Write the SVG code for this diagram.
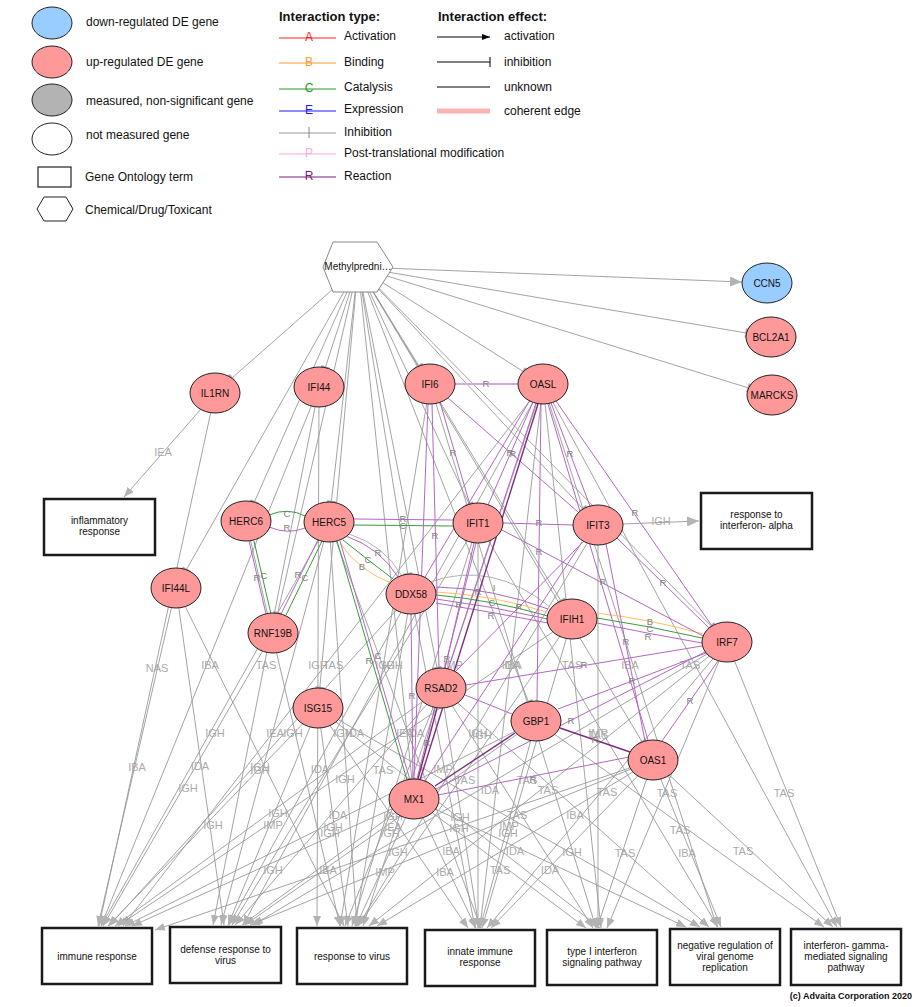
<svg xmlns="http://www.w3.org/2000/svg" width="922" height="1007" viewBox="0 0 922 1007">
<defs>
  <marker id="ga" viewBox="0 0 10 8" refX="10" refY="4" markerWidth="10" markerHeight="8" markerUnits="userSpaceOnUse" orient="auto">
    <path d="M0,0 L10,4 L0,8 z" fill="#b3b3b3"/>
  </marker>
  <marker id="gbig" viewBox="0 0 12 10" refX="12" refY="5" markerWidth="12" markerHeight="10" markerUnits="userSpaceOnUse" orient="auto">
    <path d="M0,0 L12,5 L0,10 z" fill="#b3b3b3"/>
  </marker>
  <marker id="bar" viewBox="-2 -5 4 10" refX="0" refY="0" markerWidth="4" markerHeight="10" markerUnits="userSpaceOnUse" orient="auto">
    <path d="M0,-4.5 L0,4.5" stroke="#aaa" stroke-width="2.5"/>
  </marker>
  <marker id="blk" viewBox="0 0 8 6" refX="8" refY="3" markerWidth="8" markerHeight="6" markerUnits="userSpaceOnUse" orient="auto">
    <path d="M0,0 L8,3 L0,6 z" fill="#000"/>
  </marker>
</defs>
<style>
  text { font-family: "Liberation Sans", Arial, sans-serif; }
  .lg { font-size: 12px; fill: #111; }
  .hd { font-size: 13px; font-weight: bold; fill: #111; }
  .gene { fill: #ff9999; stroke: #222; stroke-width: 1; }
  .down { fill: #99ccff; stroke: #222; stroke-width: 1; }
  .nl { font-size: 10px; fill: #111; text-anchor: middle; }
  .box { fill: #fff; stroke: #1a1a1a; stroke-width: 2.5; }
  .bl { font-size: 10px; fill: #111; text-anchor: middle; }
  .go line { stroke: #9a9a9a; stroke-width: 0.9; fill: none; marker-end: url(#ga); }
  .hx line { stroke: #9a9a9a; stroke-width: 0.9; marker-end: url(#bar); }
  .ev { font-size: 11px; fill: #aaa; text-anchor: middle; }
  .r { stroke: #b268c2; stroke-width: 1; fill: none; }
  .r2 { stroke: #d8a8e2; stroke-width: 2; fill: none; }
  .rd { stroke: #7e2c80; stroke-width: 1.4; fill: none; }
  .c { stroke: #3a9a3a; stroke-width: 1; fill: none; }
  .b { stroke: #ffc060; stroke-width: 1; fill: none; }
  .i { stroke: #b0b0b0; stroke-width: 1; fill: none; }
  .il { font-size: 9.5px; fill: #808080; text-anchor: middle; }
</style>
<rect width="922" height="1007" fill="#fff"/>

<!-- legend: node kinds -->
<g id="legend-nodes">
  <ellipse cx="52" cy="23" rx="20" ry="16" class="down"/>
  <text x="86" y="26" class="lg">down-regulated DE gene</text>
  <ellipse cx="52" cy="62" rx="20" ry="16" class="gene"/>
  <text x="86" y="66" class="lg">up-regulated DE gene</text>
  <ellipse cx="52" cy="100" rx="20" ry="16" fill="#b3b3b3" stroke="#222"/>
  <text x="86" y="105" class="lg">measured, non-significant gene</text>
  <ellipse cx="52" cy="139" rx="20" ry="16" fill="#fff" stroke="#222"/>
  <text x="86" y="139" class="lg">not measured gene</text>
  <rect x="38" y="167" width="33" height="20" fill="#fff" stroke="#222" stroke-width="1.2"/>
  <text x="85" y="181" class="lg">Gene Ontology term</text>
  <polygon points="37,209 44,197 66,197 73,209 66,221 44,221" fill="#fff" stroke="#222"/>
  <text x="85" y="214" class="lg">Chemical/Drug/Toxicant</text>
</g>

<!-- legend: interaction type -->
<g id="legend-types">
  <text x="279" y="21" class="hd">Interaction type:</text>
  <line x1="279" y1="38" x2="336" y2="38" stroke="#ff2020"/>
  <text x="309" y="41" font-size="12" fill="#ff2020" text-anchor="middle">A</text>
  <text x="344" y="40" class="lg">Activation</text>
  <line x1="279" y1="63" x2="336" y2="63" stroke="#ff9933"/>
  <text x="309" y="66" font-size="12" fill="#ff9933" text-anchor="middle">B</text>
  <text x="344" y="66" class="lg">Binding</text>
  <line x1="279" y1="89" x2="336" y2="89" stroke="#2a962a"/>
  <text x="309" y="92" font-size="12" fill="#2a962a" text-anchor="middle">C</text>
  <text x="344" y="91" class="lg">Catalysis</text>
  <line x1="279" y1="111" x2="336" y2="111" stroke="#1a1aff"/>
  <text x="309" y="114" font-size="12" fill="#1a1aff" text-anchor="middle">E</text>
  <text x="344" y="113" class="lg">Expression</text>
  <line x1="279" y1="133" x2="336" y2="133" stroke="#999"/>
  <line x1="309" y1="127" x2="309" y2="138" stroke="#888"/>
  <text x="344" y="136" class="lg">Inhibition</text>
  <line x1="279" y1="154" x2="336" y2="154" stroke="#ffaadd"/>
  <text x="309" y="157" font-size="12" fill="#ffaadd" text-anchor="middle">P</text>
  <text x="344" y="157" class="lg">Post-translational modification</text>
  <line x1="279" y1="177" x2="336" y2="177" stroke="#7a1a7a"/>
  <text x="309" y="180" font-size="12" fill="#7a1a7a" text-anchor="middle">R</text>
  <text x="344" y="180" class="lg">Reaction</text>
</g>

<!-- legend: interaction effect -->
<g id="legend-effects">
  <text x="438" y="21" class="hd">Interaction effect:</text>
  <line x1="437" y1="37" x2="490" y2="37" stroke="#000" marker-end="url(#blk)"/>
  <text x="504" y="40" class="lg">activation</text>
  <line x1="437" y1="62" x2="490" y2="62" stroke="#000"/>
  <line x1="490" y1="57" x2="490" y2="67" stroke="#000"/>
  <text x="504" y="66" class="lg">inhibition</text>
  <line x1="437" y1="87" x2="490" y2="87" stroke="#000"/>
  <text x="504" y="91" class="lg">unknown</text>
  <line x1="437" y1="111" x2="490" y2="111" stroke="#f8b4b4" stroke-width="5"/>
  <text x="504" y="115" class="lg">coherent edge</text>
</g>

<g id="connectors">
  <!-- drug to genes -->
  <g class="hx">
    <line x1="358" y1="267" x2="742" y2="282" style="marker-end:url(#gbig)"/>
    <line x1="358" y1="267" x2="746.5" y2="333"/>
    <line x1="358" y1="267" x2="748.7" y2="388"/>
    <line x1="358" y1="267" x2="231.8" y2="378.2"/>
    <line x1="358" y1="267" x2="325.3" y2="367.6"/>
    <line x1="358" y1="267" x2="419" y2="366.1" stroke="#666"/>
    <line x1="358" y1="267" x2="523.4" y2="371.6"/>
    <line x1="358" y1="267" x2="254.3" y2="502.1"/>
    <line x1="358" y1="267" x2="331.3" y2="502.1"/>
    <line x1="358" y1="267" x2="469.2" y2="504.3"/>
    <line x1="358" y1="267" x2="583.1" y2="509"/>
    <line x1="358" y1="267" x2="186.3" y2="569.8"/>
    <line x1="358" y1="267" x2="407.8" y2="574.2"/>
    <line x1="358" y1="267" x2="561.1" y2="601" stroke="#666"/>
    <line x1="358" y1="267" x2="711.5" y2="626.3"/>
    <line x1="358" y1="267" x2="277.6" y2="613.3"/>
    <line x1="358" y1="267" x2="437.1" y2="668.2"/>
    <line x1="358" y1="267" x2="319.8" y2="688"/>
    <line x1="358" y1="267" x2="528.5" y2="701.9"/>
    <line x1="358" y1="267" x2="642.2" y2="742"/>
    <line x1="358" y1="267" x2="411.9" y2="779.1"/>
  </g>

  <!-- gene to GO term annotations -->
  <g class="go">
    <line x1="215" y1="393" x2="124" y2="497"/>
    <line x1="215" y1="393" x2="99" y2="926"/>
    <line x1="319" y1="387" x2="101" y2="926"/>
    <line x1="319" y1="387" x2="213" y2="925"/>
    <line x1="319" y1="387" x2="317" y2="926"/>
    <line x1="430" y1="384" x2="340" y2="926"/>
    <line x1="430" y1="384" x2="596" y2="928"/>
    <line x1="543" y1="384" x2="123" y2="926"/>
    <line x1="543" y1="384" x2="243" y2="925"/>
    <line x1="543" y1="384" x2="363" y2="926"/>
    <line x1="543" y1="384" x2="480" y2="928"/>
    <line x1="543" y1="384" x2="601" y2="928"/>
    <line x1="543" y1="384" x2="717" y2="927"/>
    <line x1="543" y1="384" x2="837" y2="927"/>
    <line x1="246" y1="521" x2="340" y2="926"/>
    <line x1="329" y1="522" x2="101" y2="926"/>
    <line x1="329" y1="522" x2="221" y2="925"/>
    <line x1="329" y1="522" x2="357" y2="926"/>
    <line x1="329" y1="522" x2="481" y2="928"/>
    <line x1="478" y1="523" x2="232" y2="925"/>
    <line x1="478" y1="523" x2="352" y2="926"/>
    <line x1="478" y1="523" x2="478" y2="928"/>
    <line x1="478" y1="523" x2="718" y2="927"/>
    <line x1="598" y1="525" x2="358" y2="926"/>
    <line x1="598" y1="525" x2="598" y2="928"/>
    <line x1="623" y1="524" x2="699" y2="521" style="marker-end:url(#gbig)"/>
    <line x1="176" y1="588" x2="98" y2="926"/>
    <line x1="176" y1="588" x2="224" y2="925"/>
    <line x1="176" y1="588" x2="344" y2="926"/>
    <line x1="411" y1="594" x2="109" y2="926"/>
    <line x1="411" y1="594" x2="229" y2="925"/>
    <line x1="411" y1="594" x2="355" y2="926"/>
    <line x1="411" y1="594" x2="475" y2="928"/>
    <line x1="572" y1="619" x2="118" y2="926"/>
    <line x1="572" y1="619" x2="358" y2="926"/>
    <line x1="572" y1="619" x2="482" y2="928"/>
    <line x1="273" y1="633" x2="103" y2="926"/>
    <line x1="727" y1="642" x2="253" y2="925"/>
    <line x1="727" y1="642" x2="369" y2="926"/>
    <line x1="727" y1="642" x2="487" y2="928"/>
    <line x1="727" y1="642" x2="607" y2="928"/>
    <line x1="727" y1="642" x2="841" y2="927"/>
    <line x1="318" y1="708" x2="108" y2="926"/>
    <line x1="318" y1="708" x2="228" y2="925"/>
    <line x1="318" y1="708" x2="348" y2="926"/>
    <line x1="318" y1="708" x2="468" y2="928"/>
    <line x1="318" y1="708" x2="600" y2="928"/>
    <line x1="318" y1="708" x2="700" y2="927"/>
    <line x1="441" y1="688" x2="115" y2="926"/>
    <line x1="441" y1="688" x2="235" y2="925"/>
    <line x1="441" y1="688" x2="345" y2="926"/>
    <line x1="441" y1="688" x2="479" y2="928"/>
    <line x1="441" y1="688" x2="593" y2="928"/>
    <line x1="441" y1="688" x2="709" y2="927"/>
    <line x1="536" y1="721" x2="125" y2="926"/>
    <line x1="536" y1="721" x2="245" y2="925"/>
    <line x1="536" y1="721" x2="480" y2="928"/>
    <line x1="536" y1="721" x2="824" y2="927"/>
    <line x1="653" y1="760" x2="155" y2="930"/>
    <line x1="653" y1="760" x2="250" y2="925"/>
    <line x1="653" y1="760" x2="377" y2="926"/>
    <line x1="653" y1="760" x2="491" y2="928"/>
    <line x1="653" y1="760" x2="597" y2="928"/>
    <line x1="653" y1="760" x2="721" y2="927"/>
    <line x1="653" y1="760" x2="833" y2="927"/>
    <line x1="414" y1="799" x2="132" y2="926"/>
    <line x1="414" y1="799" x2="242" y2="925"/>
    <line x1="414" y1="799" x2="356" y2="926"/>
    <line x1="414" y1="799" x2="476" y2="928"/>
    <line x1="414" y1="799" x2="586" y2="928"/>
    <line x1="414" y1="799" x2="686" y2="927"/>
  </g>

  <!-- evidence codes on annotation edges -->
  <g id="evidence-labels">
    <text x="163" y="456" class="ev">IEA</text>
    <text x="157" y="672" class="ev">NAS</text>
    <text x="210" y="669" class="ev">IBA</text>
    <text x="266" y="669" class="ev">TAS</text>
    <text x="318" y="669" class="ev">IGH</text>
    <text x="385" y="669" class="ev">IGH</text>
    <text x="513" y="669" class="ev">IBA</text>
    <text x="333" y="669" class="ev">TAS</text>
    <text x="393" y="669" class="ev">IGH</text>
    <text x="453" y="669" class="ev">IMP</text>
    <text x="511" y="669" class="ev">IDA</text>
    <text x="572" y="669" class="ev">TAS</text>
    <text x="630" y="669" class="ev">IBA</text>
    <text x="690" y="669" class="ev">TAS</text>
    <text x="293" y="737" class="ev">IGH</text>
    <text x="215" y="737" class="ev">IGH</text>
    <text x="275" y="737" class="ev">IEA</text>
    <text x="343" y="737" class="ev">IGH</text>
    <text x="405" y="737" class="ev">IEA</text>
    <text x="355" y="737" class="ev">IDA</text>
    <text x="415" y="737" class="ev">IDA</text>
    <text x="478" y="737" class="ev">IGH</text>
    <text x="598" y="737" class="ev">IMP</text>
    <text x="482" y="739" class="ev">IGH</text>
    <text x="598" y="739" class="ev">TAS</text>
    <text x="661" y="525" class="ev">IGH</text>
    <text x="137" y="771" class="ev">IBA</text>
    <text x="200" y="770" class="ev">IDA</text>
    <text x="260" y="771" class="ev">IGH</text>
    <text x="260" y="774" class="ev">IGH</text>
    <text x="320" y="773" class="ev">IDA</text>
    <text x="383" y="774" class="ev">TAS</text>
    <text x="443" y="773" class="ev">IMP</text>
    <text x="345" y="783" class="ev">IGH</text>
    <text x="465" y="784" class="ev">TAS</text>
    <text x="527" y="784" class="ev">TAS</text>
    <text x="188" y="792" class="ev">IGH</text>
    <text x="490" y="794" class="ev">IDA</text>
    <text x="548" y="794" class="ev">TAS</text>
    <text x="607" y="796" class="ev">TAS</text>
    <text x="667" y="797" class="ev">TAS</text>
    <text x="784" y="797" class="ev">TAS</text>
    <text x="213" y="829" class="ev">IGH</text>
    <text x="273" y="829" class="ev">IMP</text>
    <text x="333" y="831" class="ev">IGH</text>
    <text x="393" y="831" class="ev">IEA</text>
    <text x="459" y="832" class="ev">IGH</text>
    <text x="509" y="830" class="ev">IMP</text>
    <text x="278" y="817" class="ev">IGH</text>
    <text x="338" y="819" class="ev">IDA</text>
    <text x="393" y="820" class="ev">IGH</text>
    <text x="460" y="821" class="ev">IGH</text>
    <text x="517" y="819" class="ev">TAS</text>
    <text x="575" y="819" class="ev">IBA</text>
    <text x="330" y="837" class="ev">IGH</text>
    <text x="390" y="837" class="ev">IGH</text>
    <text x="508" y="837" class="ev">IGH</text>
    <text x="680" y="834" class="ev">TAS</text>
    <text x="398" y="856" class="ev">IGH</text>
    <text x="451" y="855" class="ev">IBA</text>
    <text x="515" y="855" class="ev">IDA</text>
    <text x="572" y="856" class="ev">IGH</text>
    <text x="625" y="857" class="ev">TAS</text>
    <text x="687" y="857" class="ev">IBA</text>
    <text x="743" y="855" class="ev">TAS</text>
    <text x="273" y="874" class="ev">IGH</text>
    <text x="328" y="874" class="ev">IBA</text>
    <text x="385" y="876" class="ev">IMP</text>
    <text x="445" y="876" class="ev">IBA</text>
    <text x="500" y="874" class="ev">TAS</text>
    <text x="550" y="874" class="ev">IDA</text>
  </g>

  <!-- gene to gene interactions -->
  <g id="interactions">
    <path class="r2" d="M455,384 L518,384"/>
    <path class="c" d="M269,515 Q288,507 305,516"/>
    <path class="r" d="M269,527 Q288,535 305,528"/>
    <path class="r" d="M249,541 L266,614"/>
    <path class="c" d="M254,541 L271,614"/>
    <path class="r" d="M318,540 L281,614"/>
    <path class="c" d="M322,541 L286,615"/>
    <path class="r" d="M354,519 L453,520"/>
    <path class="c" d="M354,525 L453,526"/>
    <path class="r" d="M346,536 Q380,548 398,577"/>
    <path class="i" d="M349,534 Q384,545 402,576"/>
    <path class="c" d="M343,540 Q368,560 393,579"/>
    <path class="b" d="M340,543 Q358,570 389,582"/>
    <path class="c" d="M337,541 L407,780"/>
    <path class="r" d="M340,541 L410,780"/>
    <path class="i" d="M430,582 Q492,560 550,607"/>
    <path class="r" d="M436,587 Q492,588 548,609"/>
    <path class="b" d="M436,592 Q492,595 547,612"/>
    <path class="c" d="M436,595 Q492,600 548,616"/>
    <path class="r" d="M436,599 Q492,606 548,619"/>
    <path class="r" d="M436,603 Q492,612 548,623"/>
    <path class="b" d="M596,613 Q650,619 703,634"/>
    <path class="c" d="M597,618 Q650,626 702,638"/>
    <path class="r" d="M597,623 Q650,634 702,643"/>
    <path class="r" d="M503,523 L573,525"/>
    <path class="r" d="M440,402 L470,505"/>
    <path class="r" d="M448,398 L578,512"/>
    <path class="r" d="M432,404 L439,668"/>
    <path class="r" d="M428,404 L414,779"/>
    <path class="r" d="M533,402 L488,505"/>
    <path class="r" d="M551,403 L590,506"/>
    <path class="r" d="M556,401 L712,626"/>
    <path class="r" d="M536,403 L448,669"/>
    <path class="rd" d="M538,404 L420,780"/>
    <path class="r" d="M541,404 L537,701"/>
    <path class="r" d="M530,400 L425,577"/>
    <path class="r" d="M548,404 L648,740"/>
    <path class="r" d="M502,530 L703,636"/>
    <path class="r" d="M476,543 L417,779"/>
    <path class="r" d="M474,543 L445,668"/>
    <path class="r" d="M617,538 L710,629"/>
    <path class="r" d="M606,544 L645,741"/>
    <path class="r" d="M584,541 L455,672"/>
    <path class="r" d="M582,542 L425,781"/>
    <path class="r" d="M702,646 L466,685"/>
    <path class="r" d="M706,653 L558,709"/>
    <path class="r" d="M718,661 L662,741"/>
    <path class="r" d="M705,652 L436,789"/>
    <path class="rd" d="M437,708 L418,779"/>
    <path class="r" d="M465,695 L512,714"/>
    <path class="r" d="M411,614 L413,779"/>
    <path class="rd" d="M560,728 L630,752"/>
    <path class="r" d="M438,795 L629,757"/>
    <path class="rd" d="M435,786 L515,733"/>
  </g>

  <!-- interaction type letters -->
  <g id="interaction-labels">
    <text x="486" y="387" class="il">R</text>
    <text x="287" y="517" class="il">C</text>
    <text x="287" y="531" class="il">R</text>
    <text x="257" y="581" class="il">R</text>
    <text x="264" y="579" class="il">C</text>
    <text x="298" y="578" class="il">R</text>
    <text x="305" y="581" class="il">C</text>
    <text x="403" y="522" class="il">R</text>
    <text x="403" y="529" class="il">C</text>
    <text x="378" y="556" class="il">R</text>
    <text x="368" y="563" class="il">C</text>
    <text x="362" y="570" class="il">B</text>
    <text x="369" y="664" class="il">R</text>
    <text x="378" y="659" class="il">C</text>
    <text x="494" y="591" class="il">I</text>
    <text x="478" y="595" class="il">R</text>
    <text x="492" y="606" class="il">C</text>
    <text x="519" y="610" class="il">R</text>
    <text x="491" y="619" class="il">R</text>
    <text x="459" y="608" class="il">R</text>
    <text x="650" y="625" class="il">B</text>
    <text x="650" y="632" class="il">C</text>
    <text x="648" y="640" class="il">R</text>
    <text x="539" y="526" class="il">R</text>
    <text x="453" y="456" class="il">R</text>
    <text x="513" y="457" class="il">R</text>
    <text x="435" y="539" class="il">R</text>
    <text x="510" y="456" class="il">R</text>
    <text x="570" y="457" class="il">R</text>
    <text x="635" y="516" class="il">R</text>
    <text x="539" y="555" class="il">R</text>
    <text x="603" y="585" class="il">R</text>
    <text x="447" y="662" class="il">R</text>
    <text x="663" y="586" class="il">R</text>
    <text x="626" y="645" class="il">R</text>
    <text x="584" y="668" class="il">R</text>
    <text x="632" y="684" class="il">R</text>
    <text x="690" y="704" class="il">R</text>
    <text x="571" y="724" class="il">R</text>
    <text x="427" y="746" class="il">R</text>
    <text x="412" y="699" class="il">R</text>
    <text x="595" y="743" class="il">R</text>
    <text x="533" y="783" class="il">R</text>
  </g>
</g>

<!-- drug node -->
<g id="node-methylprednisolone">
  <polygon points="323,267 333,242 377,242 393,267 377,292 333,292" fill="#fff" stroke="#888"/>
  <text x="358" y="270" class="nl">Methylpredni…</text>
</g>

<!-- gene nodes -->
<g id="node-CCN5"><ellipse cx="767" cy="283" rx="25" ry="20" class="down"/><text x="767" y="286.5" class="nl">CCN5</text></g>
<g id="node-BCL2A1"><ellipse cx="771" cy="337" rx="25" ry="20" class="gene"/><text x="771" y="340.5" class="nl">BCL2A1</text></g>
<g id="node-MARCKS"><ellipse cx="772" cy="395" rx="25" ry="20" class="gene"/><text x="772" y="398.5" class="nl">MARCKS</text></g>
<g id="node-IL1RN"><ellipse cx="215" cy="393" rx="25" ry="20" class="gene"/><text x="215" y="396.5" class="nl">IL1RN</text></g>
<g id="node-IFI44"><ellipse cx="319" cy="387" rx="25" ry="20" class="gene"/><text x="319" y="390.5" class="nl">IFI44</text></g>
<g id="node-IFI6"><ellipse cx="430" cy="384" rx="25" ry="20" class="gene"/><text x="430" y="387.5" class="nl">IFI6</text></g>
<g id="node-OASL"><ellipse cx="543" cy="384" rx="25" ry="20" class="gene"/><text x="543" y="387.5" class="nl">OASL</text></g>
<g id="node-HERC6"><ellipse cx="246" cy="521" rx="25" ry="20" class="gene"/><text x="246" y="524.5" class="nl">HERC6</text></g>
<g id="node-HERC5"><ellipse cx="329" cy="522" rx="25" ry="20" class="gene"/><text x="329" y="525.5" class="nl">HERC5</text></g>
<g id="node-IFIT1"><ellipse cx="478" cy="523" rx="25" ry="20" class="gene"/><text x="478" y="526.5" class="nl">IFIT1</text></g>
<g id="node-IFIT3"><ellipse cx="598" cy="525" rx="25" ry="20" class="gene"/><text x="598" y="528.5" class="nl">IFIT3</text></g>
<g id="node-IFI44L"><ellipse cx="176" cy="588" rx="25" ry="20" class="gene"/><text x="176" y="591.5" class="nl">IFI44L</text></g>
<g id="node-DDX58"><ellipse cx="411" cy="594" rx="25" ry="20" class="gene"/><text x="411" y="597.5" class="nl">DDX58</text></g>
<g id="node-IFIH1"><ellipse cx="572" cy="619" rx="25" ry="20" class="gene"/><text x="572" y="622.5" class="nl">IFIH1</text></g>
<g id="node-IRF7"><ellipse cx="727" cy="642" rx="25" ry="20" class="gene"/><text x="727" y="645.5" class="nl">IRF7</text></g>
<g id="node-RNF19B"><ellipse cx="273" cy="633" rx="25" ry="20" class="gene"/><text x="273" y="636.5" class="nl">RNF19B</text></g>
<g id="node-RSAD2"><ellipse cx="441" cy="688" rx="25" ry="20" class="gene"/><text x="441" y="691.5" class="nl">RSAD2</text></g>
<g id="node-ISG15"><ellipse cx="318" cy="708" rx="25" ry="20" class="gene"/><text x="318" y="711.5" class="nl">ISG15</text></g>
<g id="node-GBP1"><ellipse cx="536" cy="721" rx="25" ry="20" class="gene"/><text x="536" y="724.5" class="nl">GBP1</text></g>
<g id="node-OAS1"><ellipse cx="653" cy="760" rx="25" ry="20" class="gene"/><text x="653" y="763.5" class="nl">OAS1</text></g>
<g id="node-MX1"><ellipse cx="414" cy="799" rx="25" ry="20" class="gene"/><text x="414" y="802.5" class="nl">MX1</text></g>

<!-- GO term nodes -->
<g id="go-inflammatory-response"><rect x="44" y="499" width="111" height="56" class="box"/><text class="bl"><tspan x="99.5" y="524">inflammatory</tspan><tspan x="99.5" y="535">response</tspan></text></g>
<g id="go-response-to-interferon-alpha"><rect x="701" y="493" width="111" height="56" class="box"/><text class="bl"><tspan x="756.5" y="518">response to</tspan><tspan x="756.5" y="529">interferon- alpha</tspan></text></g>
<g id="go-immune-response"><rect x="42" y="928" width="110" height="56" class="box"/><text x="97" y="960" class="bl">immune response</text></g>
<g id="go-defense-response-to-virus"><rect x="170" y="927" width="111" height="56" class="box"/><text class="bl"><tspan x="225.5" y="953">defense response to</tspan><tspan x="225.5" y="964">virus</tspan></text></g>
<g id="go-response-to-virus"><rect x="297" y="928" width="110" height="56" class="box"/><text x="352" y="960" class="bl">response to virus</text></g>
<g id="go-innate-immune-response"><rect x="425" y="930" width="110" height="56" class="box"/><text class="bl"><tspan x="480" y="955">innate immune</tspan><tspan x="480" y="966">response</tspan></text></g>
<g id="go-type-I-interferon-signaling"><rect x="547" y="930" width="110" height="55" class="box"/><text class="bl"><tspan x="602" y="955">type I interferon</tspan><tspan x="602" y="966">signaling pathway</tspan></text></g>
<g id="go-negative-regulation-viral-replication"><rect x="670" y="929" width="110" height="56" class="box"/><text class="bl"><tspan x="725" y="949">negative regulation of</tspan><tspan x="725" y="960">viral genome</tspan><tspan x="725" y="971">replication</tspan></text></g>
<g id="go-interferon-gamma-signaling"><rect x="791" y="929" width="110" height="56" class="box"/><text class="bl"><tspan x="846" y="949">interferon- gamma-</tspan><tspan x="846" y="960">mediated signaling</tspan><tspan x="846" y="971">pathway</tspan></text></g>

<text x="912" y="999" font-size="9" font-weight="bold" text-anchor="end" fill="#111">(c) Advaita Corporation 2020</text>
</svg>
